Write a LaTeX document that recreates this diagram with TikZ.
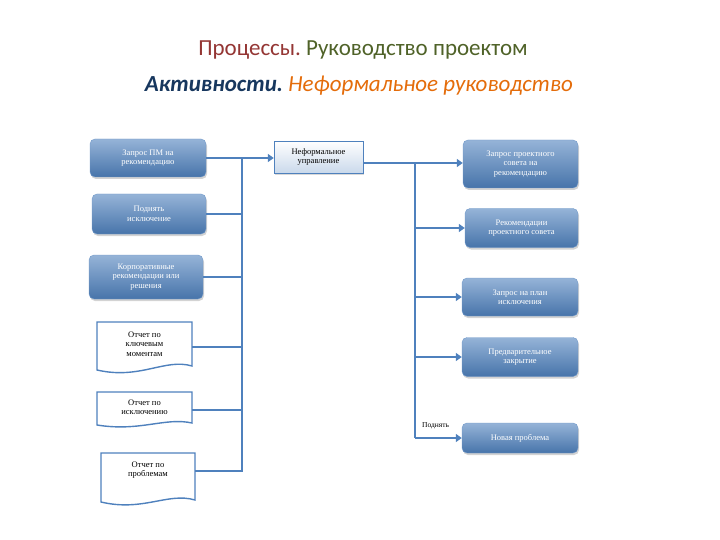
\documentclass[tikz,border=0pt]{standalone}
\usepackage{fontspec}
\setmainfont{Liberation Serif}
\newfontfamily\titlefont{Carlito}
\usetikzlibrary{arrows.meta,shadows}
\definecolor{lineblue}{HTML}{4F81BD}
\definecolor{tred}{HTML}{943634}
\definecolor{tgreen}{HTML}{4F6228}
\definecolor{tblue}{HTML}{17375E}
\definecolor{torange}{HTML}{E46C0A}
\tikzset{
 bluebox/.style={rounded corners=5pt, top color=lineblue!60, bottom color=lineblue!90!black, draw=lineblue!80!white,
   text=white, font=\fontsize{8.5}{9.5}\selectfont, align=center, drop shadow={opacity=0.35,shadow xshift=1pt,shadow yshift=-2pt}, inner sep=2pt},
 lightbox/.style={top color=white, bottom color=lineblue!30, draw=lineblue, font=\fontsize{8.5}{9.5}\selectfont, align=center, drop shadow={opacity=0.3,shadow xshift=1pt,shadow yshift=-2pt}},
 docline/.style={draw=lineblue, line width=1.4pt, fill=white},
 doctext/.style={font=\fontsize{8.5}{9.5}\selectfont, align=center},
 conn/.style={draw=lineblue, line width=2.8pt},
 arr/.style={conn, -{Triangle[length=6pt,width=8pt]}}
}
\begin{document}
\begin{tikzpicture}[x=1pt,y=-1pt]
\useasboundingbox (0,0) rectangle (720,540);
% title
\node (t1) at (363,50) {\titlefont\fontsize{23}{26}\selectfont\textcolor{tred}{Процессы.}~\textcolor{tgreen}{Руководство проектом}};
\node (t2) at (359,86) {\titlefont\fontsize{23}{26}\selectfont\itshape\textcolor{tblue}{\bfseries Активности.}~\textcolor{torange}{Неформальное руководство}};
% left blue boxes
\node[bluebox, minimum width=116, minimum height=38] (l1) at (148,158) {Запрос ПМ на\\рекомендацию};
\node[bluebox, minimum width=114, minimum height=40] (l2) at (149,214) {Поднять\\исключение};
\node[bluebox, minimum width=114, minimum height=44] (l3) at (146,277) {Корпоративные\\рекомендации или\\решения};
% documents
\path[docline] (97,322) -- (192,322) -- (192,366) .. controls (165,358) and (140,380) .. (97,370) -- cycle;
\node[doctext] (d1) at (144.5,344) {Отчет по\\ключевым\\моментам};
\coordinate (d1e) at (192,347);
\path[docline] (97,392) -- (192,392) -- (192,423) .. controls (165,417) and (140,432) .. (97,425) -- cycle;
\node[doctext] (d2) at (144.5,407) {Отчет по\\исключению};
\coordinate (d2e) at (192,410);
\path[docline] (101,453) -- (195,453) -- (195,500) .. controls (168,492) and (143,512) .. (101,502) -- cycle;
\node[doctext] (d3) at (148,470) {Отчет по\\проблемам};
\coordinate (d3e) at (195,471);
% central
\node[lightbox, minimum width=89, minimum height=32] (c) at (318.5,157) {Неформальное\\управление};
% right boxes
\node[bluebox, minimum width=115, minimum height=48] (r1) at (520.5,164) {Запрос проектного\\совета на\\рекомендацию};
\node[bluebox, minimum width=113, minimum height=39] (r2) at (521.5,228) {Рекомендации\\проектного совета};
\node[bluebox, minimum width=116, minimum height=38] (r3) at (520,297) {Запрос на план\\исключения};
\node[bluebox, minimum width=116, minimum height=39] (r4) at (520,357) {Предварительное\\закрытие};
\node[bluebox, minimum width=116, minimum height=30] (r5) at (520,438) {Новая проблема};
% left bus
\coordinate (b1) at (242,158);
\coordinate (b6) at (242,472);
\draw[conn] (b1) -- (b6);
\draw[conn] (l1.east) -- (b1);
\draw[conn] (l2.east) -- (l2.east -| b1);
\draw[conn] (l3.east) -- (l3.east -| b1);
\draw[conn] (d1e) -- (d1e -| b1);
\draw[conn] (d2e) -- (d2e -| b1);
\draw[conn] (d3e) -- (d3e -| b1);
\draw[arr] (b1) -- (c.west |- b1);
% right bus
\coordinate (rb1) at (415,163);
\coordinate (rb5) at (415,438);
\draw[conn] (c.east |- rb1) -- (rb1);
\draw[conn] (rb1) -- (rb5);
\draw[arr] (rb1) -- (r1.west |- rb1);
\draw[arr] (r2.west -| rb1) -- (r2.west);
\draw[arr] (r3.west -| rb1) -- (r3.west);
\draw[arr] (r4.west -| rb1) -- (r4.west);
\draw[arr] (rb5) -- (r5.west);
\node[font=\fontsize{7.5}{8}\selectfont, inner sep=1pt, anchor=south west] (lab) at (421,430) {Поднять};
\end{tikzpicture}
\end{document}
